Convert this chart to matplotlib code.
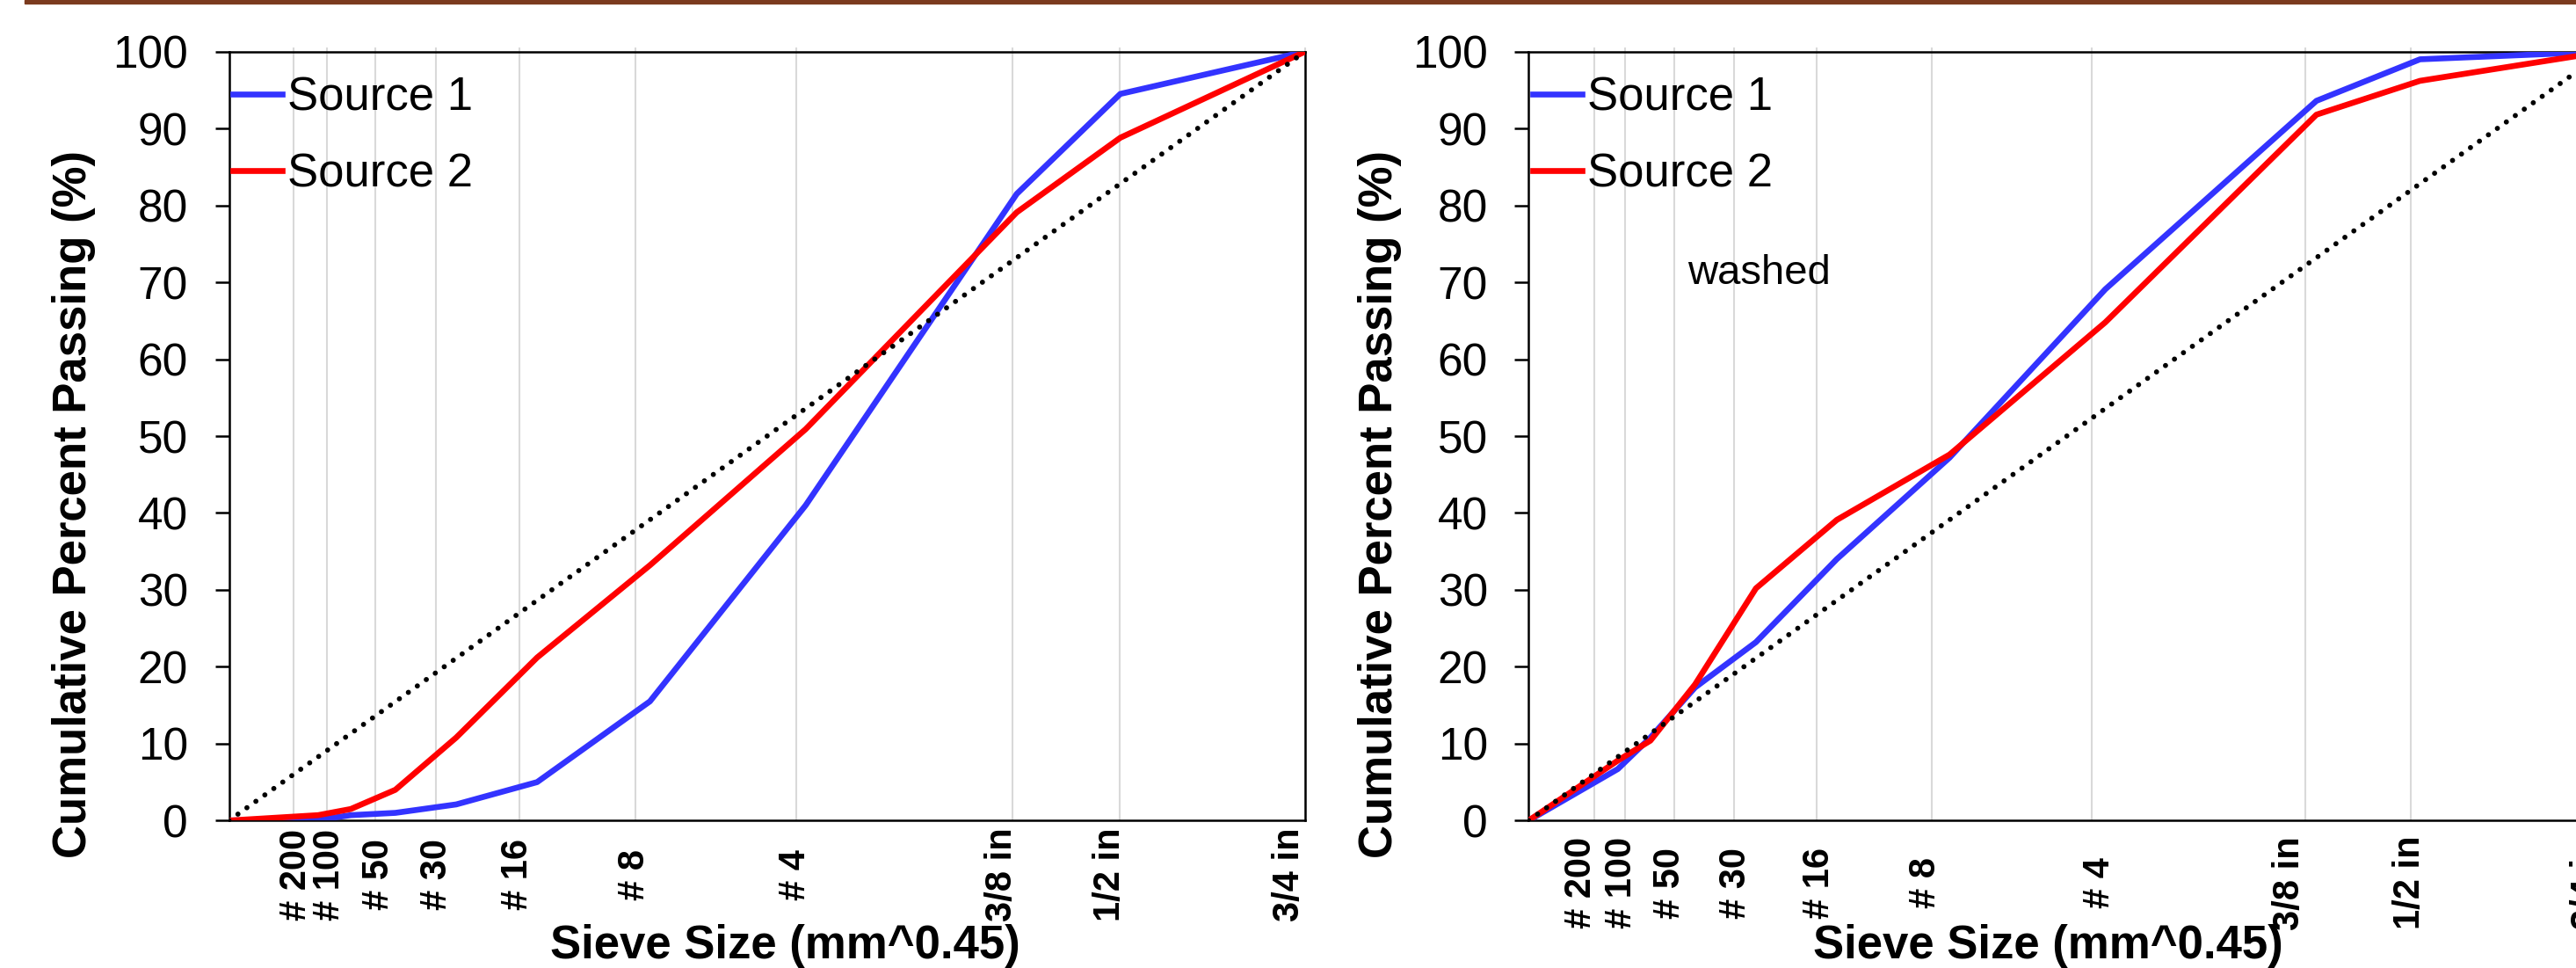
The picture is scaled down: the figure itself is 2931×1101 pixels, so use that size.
import matplotlib
matplotlib.use("Agg")
import matplotlib.pyplot as plt
from matplotlib.patches import Rectangle
import numpy as np

plt.rcParams['font.family'] = ['Liberation Sans', 'DejaVu Sans']

# sieve openings in mm (first point = pan), plotted as mm^0.45
sieve_mm = [0, 0.075, 0.15, 0.3, 0.6, 1.18, 2.36, 4.75, 9.5, 12.5, 19.0]
sieve_names = ['# 200', '# 100', '# 50', '# 30', '# 16', '# 8', '# 4',
               '3/8 in', '1/2 in', '3/4 in']

# cumulative percent passing
left_source1 = [0, 0.1, 0.7, 1.0, 2.1, 5.0, 15.5, 41.0, 81.5, 94.5, 100]
left_source2 = [0, 0.7, 1.5, 4.0, 10.8, 21.2, 33.2, 50.9, 79.1, 88.8, 100]
right_source1 = [0, 6.7, 10.8, 17.3, 23.2, 34.0, 47.2, 69.1, 93.6, 99.0, 100]
right_source2 = [0, 7.8, 10.4, 17.7, 30.2, 39.1, 47.6, 64.8, 91.8, 96.2, 100]

# where the grid lines and the sieve labels sit on each chart (mm^0.45)
left_grid = [0.226, 0.344, 0.511, 0.723, 1.015, 1.421, 1.983, 2.739, 3.114, 3.762]
left_label_x = [0.235, 0.352, 0.524, 0.727, 1.010, 1.418, 1.980, 2.702, 3.080, 3.707]
right_grid = [0.229, 0.338, 0.509, 0.719, 1.008, 1.410, 1.968, 2.715, 3.084, 3.762]
right_label_x = [0.184, 0.324, 0.493, 0.724, 1.016, 1.387, 1.996, 2.659, 3.080, 3.700]

W, H = 2931, 1101
fig = plt.figure(figsize=(W / 100, H / 100), dpi=100)

# brown rule across the top
fig.patches.append(Rectangle((28 / W, 1 - 3.5 / H), 1, 3.5 / H,
                             transform=fig.transFigure, color='#7B3A1E',
                             zorder=5))

x_all = np.array(sieve_mm) ** 0.45
x_max = 19.0 ** 0.45

ax_w = 1224.5 / W
ax_y0 = 1 - 933.3 / H
ax_h = (933.3 - 58.7) / H


def draw_panel(left_px, s1, s2, grid_x, label_x, label_y, xlab_x, ylab_x):
    ax = fig.add_axes([left_px / W, ax_y0, ax_w, ax_h])
    ax.set_xlim(0, x_max)
    ax.set_ylim(0, 100)

    ax.vlines(grid_x, 0, 1.005, transform=ax.get_xaxis_transform(),
              color='#D9D9D9', lw=1.5, zorder=1, clip_on=False)

    ax.plot(x_all, s1, color='#3333FF', lw=4.8, label='Source 1', zorder=3)
    ax.plot(x_all, s2, color='#FF0000', lw=4.8, label='Source 2', zorder=4)
    ax.plot([0, x_max], [0, 100], color='black', lw=4.2,
            linestyle=(0, (0.01, 2.14)), dash_capstyle='round', zorder=5)

    ax.set_xticks([])
    ax.set_yticks(np.arange(0, 101, 10))
    ax.tick_params(axis='y', length=11.5, width=1.8, pad=22, labelsize=37)
    for sp in ax.spines.values():
        sp.set_linewidth(1.8)

    for xv, name in zip(label_x, sieve_names):
        ax.text(xv, label_y, name, transform=ax.get_xaxis_transform(),
                rotation=90, ha='center', va='center', fontsize=30,
                fontweight='bold', clip_on=False)

    ax.set_xlabel('Sieve Size (mm^0.45)', fontsize=38, fontweight='bold',
                  va='center')
    ax.xaxis.set_label_coords(xlab_x, -0.163)
    ax.set_ylabel('Cumulative Percent Passing (%)', fontsize=38,
                  fontweight='bold', va='center')
    ax.yaxis.set_label_coords(ylab_x, 0.411)

    ax.legend(loc='upper left', bbox_to_anchor=(0.004, 0.968), frameon=False,
              fontsize=38, handlelength=1.05, handletextpad=0.12,
              borderaxespad=0, borderpad=0, labelspacing=0.7)
    return ax


draw_panel(260.5, left_source1, left_source2, left_grid, left_label_x,
           -0.0705, 0.5166, -0.1441)
ax2 = draw_panel(1739.3, right_source1, right_source2, right_grid,
                 right_label_x, -0.081, 0.4824, -0.1383)
ax2.text(0.555, 71.2, 'washed', fontsize=34, ha='left', va='center')

fig.savefig('out.png', dpi=100)
